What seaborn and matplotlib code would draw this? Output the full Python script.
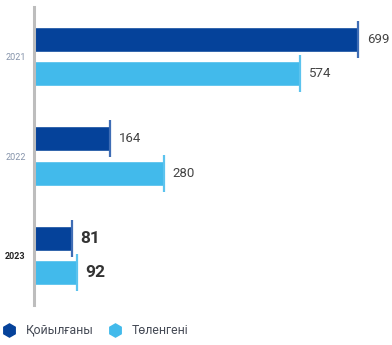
import matplotlib
matplotlib.use("Agg")
import matplotlib.pyplot as plt
from matplotlib.lines import Line2D
import seaborn as sns
import pandas as pd

years = ["2021", "2022", "2023"]
series = ["Қойылғаны", "Төленгені"]
placed = [699, 164, 81]
paid = [574, 280, 92]

colors = {"Қойылғаны": "#05429A", "Төленгені": "#42BAEB"}
cap_colors = {"Қойылғаны": "#3F6DB5", "Төленгені": "#5CC3EE"}

df = pd.DataFrame({
    "year": years * 2,
    "type": [series[0]] * 3 + [series[1]] * 3,
    "value": placed + paid,
})

sns.set_style("white")
plt.rcParams["font.family"] = ["Roboto", "DejaVu Sans"]

fig = plt.figure(figsize=(3.92, 3.45), dpi=100)
ax = fig.add_axes([34 / 392, 40 / 345, 358 / 392, 298 / 345])

sns.barplot(data=df, y="year", x="value", hue="type", orient="h",
            order=years, hue_order=series, palette=colors,
            width=0.687, gap=0.264, saturation=1, legend=False, ax=ax)

ax.set_xlim(0, 772)
ax.set_ylim(2.5, -0.5)
ax.set_xlabel("")
ax.set_ylabel("")
ax.set_xticks([])
for s in ["top", "right", "bottom"]:
    ax.spines[s].set_visible(False)
ax.spines["left"].set_color("#BDBDBD")
ax.spines["left"].set_linewidth(2.2)

patches = [p for p in ax.patches if p.get_width() > 0]
for p in patches:
    w = p.get_width()
    y0 = p.get_y()
    h = p.get_height()
    yc = y0 + h / 2
    fc = p.get_facecolor()
    typ = series[0] if abs(fc[2] - 0.6) < 0.05 else series[1]
    ax.plot([w, w], [y0 - 0.06, y0 + h + 0.06], color=cap_colors[typ],
            lw=1.6, solid_capstyle="butt")
    yr = years[int(round(yc))]
    bold = yr == "2023"
    ax.text(w + 19, yc, f"{int(round(w))}", va="center", ha="left",
            fontsize=12.5 if bold else 9.5,
            fontweight="bold" if bold else "normal",
            color="#333333" if bold else "#444444")

ax.tick_params(axis="y", length=0, pad=6)
for lbl in ax.get_yticklabels():
    if lbl.get_text() == "2023":
        lbl.set_fontweight("bold")
        lbl.set_color("#222222")
        lbl.set_fontsize(6.5)
    else:
        lbl.set_color("#8593AA")
        lbl.set_fontsize(6.5)

# legend
leg_y = 1 - 330 / 345
for xm, xt, s in [(9, 26, series[0]), (115, 132, series[1])]:
    fig.add_artist(Line2D([xm / 392], [leg_y], marker="h", linestyle="",
                          markersize=9.5, color=colors[s],
                          transform=fig.transFigure))
    fig.text(xt / 392, leg_y, s, ha="left", va="center", fontsize=8.8,
             color="#454A55")

fig.savefig("out.png", dpi=100)
